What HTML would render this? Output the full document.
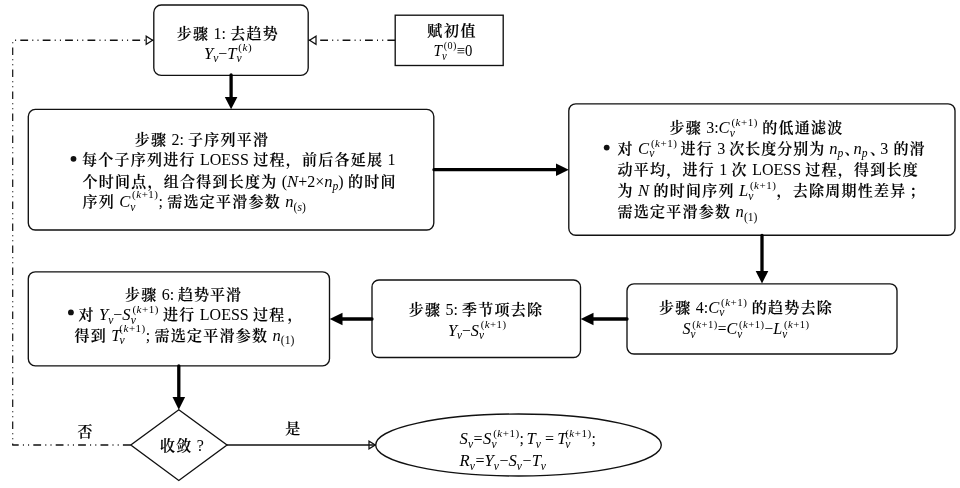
<!DOCTYPE html>
<html lang="zh">
<head>
<meta charset="utf-8">
<title>STL 流程图</title>
<style>
html,body{margin:0;padding:0;background:#fff;}
body{width:960px;height:488px;overflow:hidden;}
svg{display:block;will-change:transform;}
text{font-family:"Liberation Serif","Noto Serif CJK SC",serif;font-size:16px;fill:#000;white-space:pre;}
.c{font-weight:600;font-size:15px;letter-spacing:1.25px;word-spacing:-.75px;stroke:#000;stroke-width:.12px;}
.i{font-style:italic;font-size:16.6px;}
.s{font-size:11.6px;}
.si{font-size:11.6px;font-style:italic;}
.p{font-size:11px;letter-spacing:.5px;}
.pi{font-size:11px;font-style:italic;letter-spacing:.5px;}
.box{fill:#fff;stroke:#111;stroke-width:1.35;}
.ln{stroke:#000;stroke-width:3.3;fill:none;stroke-linecap:round;}
.dd{stroke:#111;fill:none;}
.ah{fill:#fff;stroke:#111;stroke-width:1.25;}
</style>
</head>
<body>
<svg width="960" height="488" viewBox="0 0 960 488">
<rect width="960" height="488" fill="#fff"/>

<!-- boxes -->
<rect class="box" x="153.8" y="5" width="154.4" height="70.4" rx="7.5"/>
<rect class="box" x="395.2" y="15.2" width="108" height="50.3"/>
<rect class="box" x="28.3" y="109.4" width="405.5" height="120.6" rx="7"/>
<rect class="box" x="568.8" y="103.8" width="386.2" height="131.4" rx="7"/>
<rect class="box" x="627" y="283.8" width="270" height="70.2" rx="7"/>
<rect class="box" x="372" y="280" width="208.5" height="77.5" rx="7"/>
<rect class="box" x="28.3" y="271.8" width="301.2" height="94" rx="7"/>
<polygon class="box" points="178.8,409.8 227,445 178.8,480.5 130.8,445"/>
<ellipse class="box" cx="518.5" cy="445" rx="142.8" ry="31"/>

<!-- thick arrows -->
<path class="ln" d="M231.1 75V98"/><polygon points="224.8,97 237.4,97 231.1,109.3"/>
<path class="ln" d="M434 169.7H557"/><polygon points="556,163.4 556,176 568.8,169.7"/>
<path class="ln" d="M762 235.5V273"/><polygon points="755.7,271 768.3,271 762,283.6"/>
<path class="ln" d="M627 319H592"/><polygon points="593.5,312.7 593.5,325.3 580.7,319"/>
<path class="ln" d="M372 319H341"/><polygon points="342.5,312.7 342.5,325.3 329.7,319"/>
<path class="ln" d="M178.8 366V399"/><polygon points="172.5,397 185.1,397 178.8,409.8"/>

<!-- thin arrow: yes -->
<polygon class="ah" points="369,441.1 369,448.9 375.3,445"/>
<path d="M227 445H375.5" stroke="#111" stroke-width="1.45" fill="none"/>

<!-- dash-dot feedback lines -->
<path class="dd" d="M12.7 40.3H146" stroke-width="1.5" stroke-dasharray="7.8 4.2 1 4.2 1 4.2" stroke-dashoffset="-7.6"/>
<path class="dd" d="M12.7 40.3V444.9" stroke-width="1.2" stroke-dasharray="7.7 4.1 1 4.1 1 4.1" stroke-dashoffset="-7.1"/>
<path class="dd" d="M12.2 444.9H130.8" stroke-width="1.5" stroke-dasharray="7.8 4.2 1 4.2 1 4.2" stroke-dashoffset="1.3"/>
<polygon class="ah" points="146.2,36.2 146.2,44.4 152.6,40.3"/><path d="M151.6 40.3H153.6" stroke="#111" stroke-width="1.3"/>
<path class="dd" d="M395.2 40.3H316" stroke-width="1.5" stroke-dasharray="7.8 4.2 1 4.2 1 4.2"/>
<polygon class="ah" points="316,36.2 316,44.4 309.6,40.3"/><path d="M308.5 40.3H310.5" stroke="#111" stroke-width="1.3"/>

<!-- texts -->
<text x="227.8" y="39" text-anchor="middle"><tspan class="c">步骤 </tspan><tspan class="n">1:</tspan><tspan class="c"> 去趋势</tspan></text>
<text x="228" y="58.6" text-anchor="middle"><tspan class="i">Y</tspan><tspan class="si" dy="3.5">v</tspan><tspan class="n" dy="-3.5">−</tspan><tspan class="i">T</tspan><tspan class="si" dy="3.5">v</tspan><tspan class="p" dy="-10.8" dx="-3.4">(</tspan><tspan class="pi">k</tspan><tspan class="p">)</tspan></text>
<text x="452.2" y="36.2" text-anchor="middle"><tspan class="c" style="letter-spacing:1.6px">赋初值</tspan></text>
<g transform="translate(453 56.2) scale(0.92 1)"><text x="0" y="0" text-anchor="middle"><tspan class="i">T</tspan><tspan class="si" dy="3.5">v</tspan><tspan class="p" dy="-10.8" dx="-3.4">(0)</tspan><tspan class="n" dy="7.3">≡0</tspan></text></g>
<text x="202" y="144.6" text-anchor="middle"><tspan class="c">步骤 </tspan><tspan class="n">2:</tspan><tspan class="c"> 子序列平滑</tspan></text>
<text x="82" y="165.4"><tspan class="c">每个子序列进行 </tspan><tspan class="n">LOESS</tspan><tspan class="c"> 过程，前后各延展 </tspan><tspan class="n">1</tspan></text>
<text x="82.5" y="186.8"><tspan class="c">个时间点，组合得到长度为 </tspan><tspan class="n">(</tspan><tspan class="i">N</tspan><tspan class="n">+2×</tspan><tspan class="i">n</tspan><tspan class="si" dy="3.5">p</tspan><tspan class="n" dy="-3.5">)</tspan><tspan class="c"> 的时间</tspan></text>
<text x="82.5" y="207.2"><tspan class="c">序列 </tspan><tspan class="i">C</tspan><tspan class="si" dy="3.5">v</tspan><tspan class="p" dy="-12.8" dx="-3.4">(</tspan><tspan class="pi">k</tspan><tspan class="p">+1)</tspan><tspan class="n" dy="9.3">;</tspan><tspan class="c"> 需选定平滑参数 </tspan><tspan class="i">n</tspan><tspan class="s" dy="3.5">(</tspan><tspan class="si">s</tspan><tspan class="s">)</tspan></text>
<circle cx="73.5" cy="158.8" r="2.9" fill="#111"/>
<text x="756.4" y="133.4" text-anchor="middle"><tspan class="c">步骤 </tspan><tspan class="n">3:</tspan><tspan class="i">C</tspan><tspan class="si" dy="3.5">v</tspan><tspan class="p" dy="-10.8" dx="-3.4">(</tspan><tspan class="pi">k</tspan><tspan class="p">+1)</tspan><tspan class="c" dy="7.3"> 的低通滤波</tspan></text>
<text x="617.6" y="153.8"><tspan class="c">对 </tspan><tspan class="i">C</tspan><tspan class="si" dy="3.5">v</tspan><tspan class="p" dy="-10.8" dx="-3.4">(</tspan><tspan class="pi">k</tspan><tspan class="p">+1)</tspan><tspan class="c" dy="7.3" dx="-1.2"> 进行 </tspan><tspan class="n">3</tspan><tspan class="c" style="letter-spacing:1px"> 次长度分别为 </tspan><tspan class="i">n</tspan><tspan class="si" dy="3.5">p</tspan><tspan class="c" style="letter-spacing:-6px" dy="-3.5" dx="1.2">、</tspan><tspan class="i">n</tspan><tspan class="si" dy="3.5">p</tspan><tspan class="c" style="letter-spacing:-6px" dy="-3.5" dx="2.5">、</tspan><tspan class="n" dx="1.2">3</tspan><tspan class="c" style="letter-spacing:1px" dx="1.2"> 的滑</tspan></text>
<text x="617.6" y="175"><tspan class="c">动平均，进行 </tspan><tspan class="n">1</tspan><tspan class="c"> 次 </tspan><tspan class="n">LOESS</tspan><tspan class="c"> 过程，得到长度</tspan></text>
<text x="617.6" y="196"><tspan class="c">为 </tspan><tspan class="i">N</tspan><tspan class="c"> 的时间序列 </tspan><tspan class="i">L</tspan><tspan class="si" dy="3.5">v</tspan><tspan class="p" dy="-10.8" dx="-3.4">(</tspan><tspan class="pi">k</tspan><tspan class="p">+1)</tspan><tspan class="c" dy="7.3">，去除周期性差异</tspan><tspan class="c" dx="3">；</tspan></text>
<text x="617.6" y="217"><tspan class="c">需选定平滑参数 </tspan><tspan class="i">n</tspan><tspan class="s" dy="3.5">(1)</tspan></text>
<circle cx="606.7" cy="147.6" r="2.9" fill="#111"/>
<text x="746" y="312.6" text-anchor="middle"><tspan class="c">步骤 </tspan><tspan class="n">4:</tspan><tspan class="i">C</tspan><tspan class="si" dy="3.5">v</tspan><tspan class="p" dy="-10" dx="-3.4">(</tspan><tspan class="pi">k</tspan><tspan class="p">+1)</tspan><tspan class="c" dy="6.5"> 的趋势去除</tspan></text>
<g transform="translate(746 334) scale(0.97 1)"><text x="0" y="0" text-anchor="middle"><tspan class="i">S</tspan><tspan class="si" dy="3.5">v</tspan><tspan class="p" dy="-9.8" dx="-3.4">(</tspan><tspan class="pi">k</tspan><tspan class="p">+1)</tspan><tspan class="n" dy="6.3">=</tspan><tspan class="i">C</tspan><tspan class="si" dy="3.5">v</tspan><tspan class="p" dy="-9.8" dx="-3.4">(</tspan><tspan class="pi">k</tspan><tspan class="p">+1)</tspan><tspan class="n" dy="6.3">−</tspan><tspan class="i">L</tspan><tspan class="si" dy="3.5">v</tspan><tspan class="p" dy="-9.8" dx="-3.4">(</tspan><tspan class="pi">k</tspan><tspan class="p">+1)</tspan></text></g>
<text x="476" y="314.8" text-anchor="middle"><tspan class="c">步骤 </tspan><tspan class="n">5:</tspan><tspan class="c"> 季节项去除</tspan></text>
<g transform="translate(477.2 335.6) scale(0.98 1)"><text x="0" y="0" text-anchor="middle"><tspan class="i">Y</tspan><tspan class="si" dy="3.5">v</tspan><tspan class="n" dy="-3.5">−</tspan><tspan class="i">S</tspan><tspan class="si" dy="3.5">v</tspan><tspan class="p" dy="-10.8" dx="-3.4">(</tspan><tspan class="pi">k</tspan><tspan class="p">+1)</tspan></text></g>
<text x="183.5" y="299.8" text-anchor="middle"><tspan class="c">步骤 </tspan><tspan class="n">6:</tspan><tspan class="c" style="letter-spacing:1px"> 趋势平滑</tspan></text>
<text x="78.4" y="320.4"><tspan class="c">对 </tspan><tspan class="i">Y</tspan><tspan class="si" dy="3.5">v</tspan><tspan class="n" dy="-3.5">−</tspan><tspan class="i">S</tspan><tspan class="si" dy="3.5">v</tspan><tspan class="p" dy="-10.5" dx="-3.4">(</tspan><tspan class="pi">k</tspan><tspan class="p">+1)</tspan><tspan class="c" dy="7"> 进行 </tspan><tspan class="n">LOESS</tspan><tspan class="c"> 过程</tspan><tspan class="c" dx="2">，</tspan></text>
<text x="74.6" y="340.8"><tspan class="c">得到 </tspan><tspan class="i">T</tspan><tspan class="si" dy="3.5" dx="-1.2">v</tspan><tspan class="p" dy="-12.3" dx="-5.2">(</tspan><tspan class="pi">k</tspan><tspan class="p">+1)</tspan><tspan class="n" dy="8.8">;</tspan><tspan class="c"> 需选定平滑参数 </tspan><tspan class="i">n</tspan><tspan class="s" dy="3.5">(1)</tspan></text>
<circle cx="70.9" cy="312.4" r="2.9" fill="#111"/>
<text x="85.6" y="437.4" text-anchor="middle"><tspan class="c">否</tspan></text>
<text x="293.3" y="434.4" text-anchor="middle"><tspan class="c">是</tspan></text>
<text x="182" y="451.4" text-anchor="middle"><tspan class="c">收敛 </tspan><tspan class="n">?</tspan></text>
<text x="459.6" y="444"><tspan class="i">S</tspan><tspan class="si" dy="3.5">v</tspan><tspan class="n" dy="-3.5" dx="0.5">=</tspan><tspan class="i" dx="0.5">S</tspan><tspan class="si" dy="3.5">v</tspan><tspan class="p" dy="-10.8" dx="-3.4">(</tspan><tspan class="pi">k</tspan><tspan class="p">+1)</tspan><tspan class="n" dy="7.3">; </tspan><tspan class="i" dx="-1.5">T</tspan><tspan class="si" dy="3.5">v</tspan><tspan class="n" dy="-3.5"> = </tspan><tspan class="i" dx="-0.8">T</tspan><tspan class="si" dy="3.5" dx="-1.2">v</tspan><tspan class="p" dy="-10.8" dx="-5.2">(</tspan><tspan class="pi">k</tspan><tspan class="p">+1)</tspan><tspan class="n" dy="7.3">;</tspan></text>
<text x="459.6" y="466"><tspan class="i">R</tspan><tspan class="si" dy="3.5">v</tspan><tspan class="n" dy="-3.5" dx="0.6">=</tspan><tspan class="i">Y</tspan><tspan class="si" dy="3.5">v</tspan><tspan class="n" dy="-3.5" dx="0.6">−</tspan><tspan class="i">S</tspan><tspan class="si" dy="3.5">v</tspan><tspan class="n" dy="-3.5" dx="0.6">−</tspan><tspan class="i">T</tspan><tspan class="si" dy="3.5">v</tspan></text>
</svg>
</body>
</html>
